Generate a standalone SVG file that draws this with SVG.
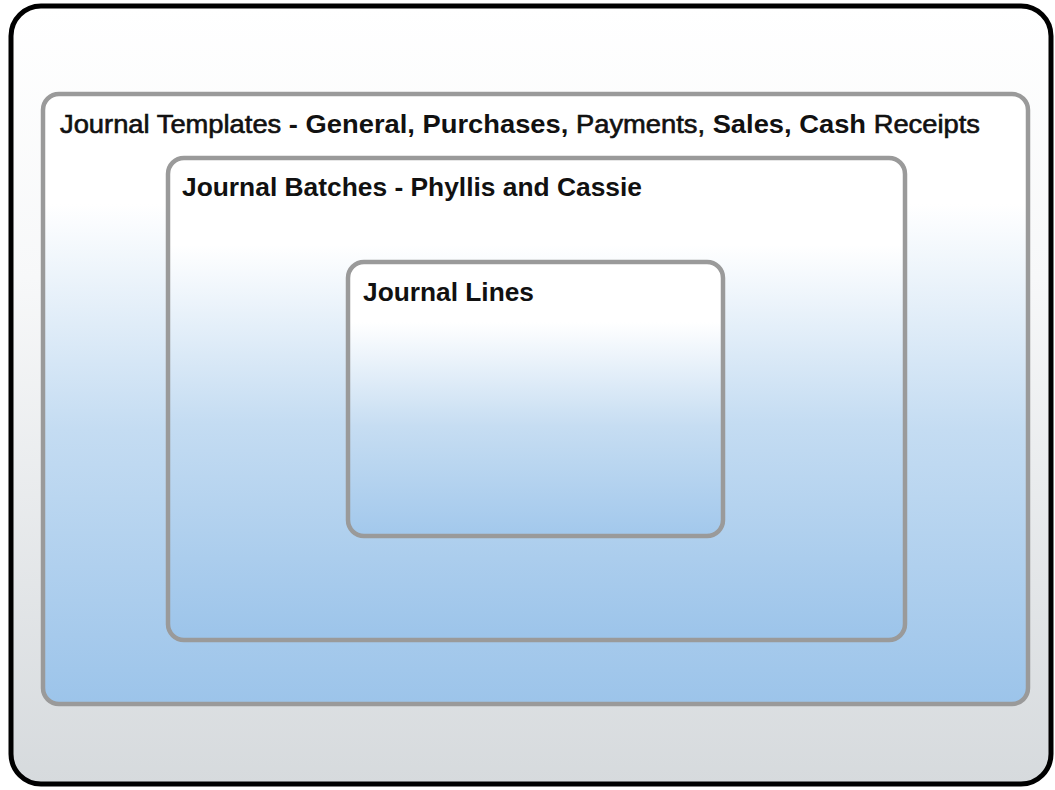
<svg xmlns="http://www.w3.org/2000/svg" width="1055" height="790" viewBox="0 0 1055 790">
<defs>
<linearGradient id="gFrame" x1="0" y1="0" x2="0" y2="1">
<stop offset="0" stop-color="#ffffff"/>
<stop offset="0.35" stop-color="#f7f8f9"/>
<stop offset="1" stop-color="#d6dadd"/>
</linearGradient>
<linearGradient id="gBlue" x1="0" y1="0" x2="0" y2="1">
<stop offset="0" stop-color="#ffffff"/>
<stop offset="0.18" stop-color="#ffffff"/>
<stop offset="0.55" stop-color="#c4dcf2"/>
<stop offset="1" stop-color="#9cc4ea"/>
</linearGradient>
<linearGradient id="gLines" x1="0" y1="0" x2="0" y2="1">
<stop offset="0" stop-color="#ffffff"/>
<stop offset="0.22" stop-color="#ffffff"/>
<stop offset="0.6" stop-color="#c6ddf2"/>
<stop offset="1" stop-color="#a2c8ec"/>
</linearGradient>
</defs>
<style>
.box{stroke:#9a9a9a;stroke-width:4.5}
.t{font-family:"Liberation Sans",Arial,sans-serif;font-size:25px;fill:#111}
.m{stroke:#111;stroke-width:0.6}
.b{font-weight:bold;stroke:none}
</style>
<g id="frame">
<rect x="11" y="6" width="1040" height="778" rx="30" fill="url(#gFrame)" stroke="#000" stroke-width="5"/>
</g>
<g id="templates">
<rect class="box" x="43" y="94" width="985" height="610" rx="16" fill="url(#gBlue)"/>
<text class="t m" x="60" y="133" textLength="920" lengthAdjust="spacingAndGlyphs">Journal Templates <tspan class="b">- General, Purchases,</tspan> Payments, <tspan class="b">Sales, Cash</tspan> Receipts</text>
</g>
<g id="batches">
<rect class="box" x="168" y="158" width="737" height="482" rx="16" fill="url(#gBlue)"/>
<text class="t b" x="182" y="196" textLength="460" lengthAdjust="spacingAndGlyphs">Journal Batches - Phyllis and Cassie</text>
</g>
<g id="lines">
<rect class="box" x="348" y="262" width="375" height="274" rx="16" fill="url(#gLines)"/>
<text class="t b" x="363" y="301" textLength="171" lengthAdjust="spacingAndGlyphs">Journal Lines</text>
</g>
<g id="connectors"/>
</svg>
